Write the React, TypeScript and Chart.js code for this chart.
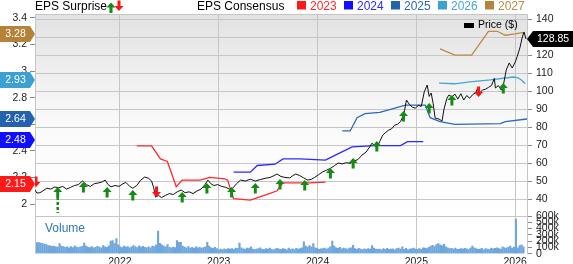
import React, { useEffect, useRef } from "react";
import { Chart, registerables } from "chart.js";

Chart.register(...registerables);

const FONT = '"Liberation Sans", Arial, Helvetica, sans-serif';

// ---------- x range (fractional years) ----------
const xMin = 2021.14;
const xMax = 2026.12;

// ---------- price ($) ----------
const priceSeries: [number, number][] = [
  [2021.14, 45], [2021.16, 43.3], [2021.19, 43.5], [2021.22, 44.5], [2021.26, 46], [2021.30, 45.5],
  [2021.34, 46.7], [2021.38, 46.2], [2021.42, 47], [2021.46, 45.5], [2021.50, 46.5], [2021.54, 47.5],
  [2021.58, 48], [2021.62, 50], [2021.66, 48], [2021.70, 47], [2021.74, 48.5], [2021.78, 48.9],
  [2021.82, 49.5], [2021.85, 50.5], [2021.88, 48], [2021.91, 46.8], [2021.95, 47.5], [2021.99, 47],
  [2022.03, 48.5], [2022.06, 49.2], [2022.10, 47], [2022.13, 46], [2022.17, 47.5], [2022.21, 50.5],
  [2022.25, 52.2], [2022.29, 51.5], [2022.32, 50], [2022.34, 46.5], [2022.36, 41.1], [2022.39, 42],
  [2022.42, 40.8], [2022.46, 42], [2022.50, 43], [2022.54, 42.5], [2022.58, 44], [2022.62, 45],
  [2022.66, 43.5], [2022.70, 44], [2022.74, 43], [2022.78, 44.5], [2022.82, 45.5], [2022.86, 48],
  [2022.89, 50.5], [2022.92, 48.5], [2022.95, 47.5], [2022.99, 48], [2023.03, 47], [2023.07, 46.5],
  [2023.11, 45.5], [2023.14, 46], [2023.18, 48.5], [2023.22, 50.5], [2023.27, 50], [2023.32, 51],
  [2023.37, 50], [2023.42, 50.8], [2023.47, 51.5], [2023.52, 52], [2023.56, 53], [2023.59, 53.9],
  [2023.63, 52.5], [2023.67, 52], [2023.72, 51.7], [2023.75, 53], [2023.78, 53.9], [2023.82, 53],
  [2023.86, 51.7], [2023.90, 50.5], [2023.94, 51], [2023.97, 52], [2024.01, 53.5], [2024.05, 55],
  [2024.09, 56], [2024.13, 57], [2024.17, 58.5], [2024.21, 60], [2024.25, 59.5], [2024.29, 60.2],
  [2024.33, 59.8], [2024.37, 61], [2024.41, 62], [2024.45, 64.4], [2024.49, 66], [2024.52, 68.3],
  [2024.55, 71], [2024.58, 69.5], [2024.60, 68.5], [2024.63, 72], [2024.66, 75.5], [2024.69, 77],
  [2024.72, 78.3], [2024.75, 79], [2024.78, 81], [2024.81, 81.5], [2024.84, 83], [2024.86, 85.5],
  [2024.88, 89], [2024.90, 95], [2024.93, 92.5], [2024.96, 91], [2024.99, 90.5], [2025.02, 92],
  [2025.05, 91.5], [2025.08, 99.5], [2025.11, 103.3], [2025.13, 97], [2025.15, 98.9], [2025.17, 93],
  [2025.19, 85], [2025.23, 84.4], [2025.26, 83.3], [2025.28, 90], [2025.31, 96], [2025.33, 97.8],
  [2025.36, 96.7], [2025.39, 98.3], [2025.42, 95.5], [2025.45, 98.5], [2025.48, 95], [2025.51, 97.5],
  [2025.54, 96], [2025.57, 98], [2025.60, 99], [2025.62, 101.5], [2025.64, 98.9], [2025.67, 100.5],
  [2025.70, 101], [2025.73, 102], [2025.76, 103], [2025.79, 107], [2025.80, 101.7], [2025.83, 103],
  [2025.86, 100.5], [2025.88, 103], [2025.91, 111.7], [2025.94, 115.6], [2025.97, 112.8], [2026.00, 116],
  [2026.02, 119], [2026.05, 124.4], [2026.07, 129.4], [2026.09, 132.8], [2026.11, 128.85],
];
const lastPrice = 128.85;

// ---------- EPS consensus by fiscal year ----------
const eps2023: [number, number][] = [
  [2022.17, 2.437], [2022.32, 2.437], [2022.41, 2.34], [2022.48, 2.32], [2022.57, 2.13], [2022.63, 2.18],
  [2022.81, 2.18], [2022.91, 2.2], [2023.06, 2.19], [2023.09, 2.18], [2023.15, 2.04], [2023.32, 2.03],
  [2023.40, 2.05], [2023.52, 2.08], [2023.59, 2.1], [2023.65, 2.16], [2023.92, 2.16], [2024.08, 2.165],
];
const eps2024: [number, number][] = [
  [2023.15, 2.24], [2023.32, 2.24], [2023.39, 2.29], [2023.57, 2.3], [2023.65, 2.34], [2023.82, 2.34],
  [2024.08, 2.33], [2024.16, 2.36], [2024.35, 2.43], [2024.58, 2.44], [2024.84, 2.44], [2024.91, 2.47],
  [2025.07, 2.47],
];
const eps2025: [number, number][] = [
  [2024.25, 2.55], [2024.33, 2.55], [2024.40, 2.65], [2024.48, 2.68], [2024.63, 2.69], [2024.89, 2.745],
  [2025.09, 2.745], [2025.14, 2.65], [2025.24, 2.62], [2025.39, 2.6], [2025.85, 2.605], [2025.90, 2.62],
  [2026.12, 2.64],
];
const eps2026: [number, number][] = [
  [2025.23, 2.91], [2025.39, 2.905], [2025.54, 2.92], [2025.75, 2.935], [2025.98, 2.956], [2026.03, 2.95],
  [2026.07, 2.93], [2026.10, 2.905],
];
const eps2027: [number, number][] = [
  [2025.24, 3.167], [2025.39, 3.12], [2025.56, 3.12], [2025.73, 3.3], [2025.82, 3.3], [2025.90, 3.27],
  [2026.00, 3.28], [2026.07, 3.29], [2026.10, 3.28],
];

const epsYears = ["2023", "2024", "2025", "2026", "2027"];
const epsColors = ["#ff2a2a", "#2a2aff", "#2d68b8", "#45a5d6", "#bb8a45"];
const epsFlagValues = [2.15, 2.48, 2.64, 2.93, 3.28];
const epsFlagColors = ["#ff1a1a", "#1010ff", "#2462b0", "#3ba0d2", "#b5823a"];

// ---------- EPS surprise markers ----------
const surpriseDates = [
  2021.15, 2021.37, 2021.63, 2021.87, 2022.13, 2022.37, 2022.63, 2022.88, 2023.13, 2023.37,
  2023.62, 2023.87, 2024.13, 2024.36, 2024.60, 2024.87, 2025.13, 2025.36, 2025.63, 2025.88,
];
const surprisePrices = [
  46.7, 46.7, 49.4, 46.7, 45, 41.1, 43.9, 48.9, 46.7, 48.9,
  51.1, 50.5, 57.2, 62.8, 72.2, 88.9, 93.3, 97.8, 96.7, 104.4,
];
const surpriseUp = [
  false, true, true, true, true, false, true, true, true, true,
  true, true, true, true, true, true, true, true, false, true,
];
const surpriseLong = [
  false, true, false, false, false, false, false, false, false, false,
  false, false, false, false, false, false, false, false, false, false,
];

// ---------- weekly volume (thousands) ----------
const volumeStart = 2021.14;
const volumeStep = 1 / 52.18;
const volumeValues = [
  180, 178, 176, 170, 165, 150, 145, 130, 125, 118, 122, 110, 105,
  160, 120, 115, 100, 108, 95, 112, 98, 125, 104, 96, 110, 118,
  170, 120, 105, 98, 115, 92, 100, 118, 106, 95, 130, 110, 100,
  125, 200, 210, 160, 240, 140, 110, 98, 120, 105, 115, 95, 108,
  130, 112, 98, 125, 105, 118, 100, 92, 110, 95, 120, 115, 140,
  360, 165, 140, 120, 110, 145, 100, 95, 105, 98, 210, 180, 180,
  120, 105, 95, 112, 90, 100, 85, 110, 95, 102, 88, 98, 110,
  180, 120, 95, 85, 100, 80, 60, 72, 65, 78, 70, 82, 75,
  80, 70, 90, 85, 170, 95, 78, 72, 88, 80, 110, 75, 68,
  72, 80, 95, 70, 65, 82, 75, 88, 70, 60, 78, 85, 72,
  68, 80, 75, 62, 90, 70, 78, 65, 85, 72, 80, 95, 190,
  120, 105, 130, 110, 160, 95, 85, 70, 78, 82, 90, 75, 88,
  110, 200, 120, 95, 85, 100, 78, 90, 82, 75, 88, 95, 135,
  80, 70, 85, 72, 65, 78, 70, 82, 75, 130, 90, 72, 68,
  75, 62, 80, 70, 85, 68, 72, 78, 60, 82, 90, 75, 110,
  70, 85, 60, 72, 80, 90, 75, 68, 82, 70, 95, 88, 80,
  100, 120, 135, 115, 145, 160, 140, 125, 150, 110, 95, 80, 85,
  75, 90, 70, 68, 80, 72, 85, 78, 65, 88, 120, 95, 80,
  70, 75, 85, 62, 80, 72, 68, 90, 78, 85, 95, 82, 75,
  110, 95, 88, 100, 120, 90, 105, 550, 95, 130, 140, 110,
];

const GRID = "#c6c6c6";
const TICK = "#8a8a8a";
const LABEL = "#222";

const toXY = (s: [number, number][]) => s.map(([x, y]) => ({ x, y }));

function drawArrow(ctx: CanvasRenderingContext2D, x: number, yTip: number, up: boolean, color: string) {
  const d = up ? 1 : -1;
  ctx.save();
  ctx.fillStyle = color;
  ctx.beginPath();
  ctx.moveTo(x, yTip);
  ctx.lineTo(x + 4.5, yTip + d * 5);
  ctx.lineTo(x + 1.5, yTip + d * 5);
  ctx.lineTo(x + 1.5, yTip + d * 10.5);
  ctx.lineTo(x - 1.5, yTip + d * 10.5);
  ctx.lineTo(x - 1.5, yTip + d * 5);
  ctx.lineTo(x - 4.5, yTip + d * 5);
  ctx.closePath();
  ctx.fill();
  ctx.restore();
}

export default function App() {
  const mainRef = useRef<HTMLCanvasElement>(null);
  const volRef = useRef<HTMLCanvasElement>(null);

  useEffect(() => {
    Chart.defaults.font.family = FONT;

    const bgPlugin = {
      id: "bg",
      beforeDraw(chart: any) {
        const { ctx, chartArea: a } = chart;
        const g = ctx.createLinearGradient(0, a.top, 0, a.bottom);
        g.addColorStop(0, "#e2e2e2");
        g.addColorStop(0.55, "#fafafa");
        g.addColorStop(1, "#ffffff");
        ctx.save();
        ctx.fillStyle = g;
        ctx.fillRect(a.left, a.top, a.right - a.left, a.bottom - a.top);
        ctx.restore();
      },
    };

    const marksPlugin = {
      id: "marks",
      afterDatasetsDraw(chart: any) {
        const { ctx, chartArea: a } = chart;
        const xs = chart.scales.x;
        const ys = chart.scales.yPrice;
        ctx.save();
        ctx.beginPath();
        ctx.rect(a.left, a.top, a.right - a.left, a.bottom - a.top);
        ctx.clip();
        surpriseDates.forEach((d, i) => {
          const x = xs.getPixelForValue(d);
          const y = ys.getPixelForValue(surprisePrices[i]);
          const up = surpriseUp[i];
          const color = up ? "#148c14" : "#ff1414";
          drawArrow(ctx, x, y, up, color);
          if (surpriseLong[i]) {
            ctx.save();
            ctx.strokeStyle = color;
            ctx.lineWidth = 2.5;
            ctx.setLineDash([3, 2]);
            ctx.beginPath();
            ctx.moveTo(x, y + 10);
            ctx.lineTo(x, a.bottom - 3);
            ctx.stroke();
            ctx.restore();
          }
        });
        ctx.restore();
        // top border of plot
        ctx.save();
        ctx.strokeStyle = GRID;
        ctx.lineWidth = 1;
        ctx.beginPath();
        ctx.moveTo(a.left, a.top + 0.5);
        ctx.lineTo(a.right, a.top + 0.5);
        ctx.stroke();
        ctx.restore();
      },
    };

    const overlayPlugin = {
      id: "overlay",
      afterDraw(chart: any) {
        const { ctx, chartArea: a } = chart;
        const yE = chart.scales.yEps;
        const yP = chart.scales.yPrice;
        ctx.save();
        // left EPS flags
        epsFlagValues.forEach((v, i) => {
          const y = Math.round(yE.getPixelForValue(v));
          ctx.fillStyle = epsFlagColors[i];
          ctx.beginPath();
          ctx.moveTo(0, y - 8);
          ctx.lineTo(30, y - 8);
          ctx.lineTo(35, y);
          ctx.lineTo(30, y + 8);
          ctx.lineTo(0, y + 8);
          ctx.closePath();
          ctx.fill();
          ctx.fillStyle = "#fff";
          ctx.font = `10.5px ${FONT}`;
          ctx.textAlign = "center";
          ctx.textBaseline = "middle";
          ctx.fillText(v.toFixed(2), 15.5, y + 0.5);
        });
        // right price flag
        const py = Math.round(yP.getPixelForValue(lastPrice));
        ctx.fillStyle = "#000";
        ctx.beginPath();
        ctx.moveTo(a.right, py);
        ctx.lineTo(a.right + 6, py - 8);
        ctx.lineTo(573, py - 8);
        ctx.lineTo(573, py + 8);
        ctx.lineTo(a.right + 6, py + 8);
        ctx.closePath();
        ctx.fill();
        ctx.fillStyle = "#fff";
        ctx.font = `10.5px ${FONT}`;
        ctx.textAlign = "left";
        ctx.textBaseline = "middle";
        ctx.fillText(lastPrice.toFixed(2), 537, py + 0.5);

        // Price ($) legend in plot
        ctx.fillStyle = "#000";
        ctx.fillRect(464, 23, 10, 5);
        ctx.font = `10.5px ${FONT}`;
        ctx.fillText("Price ($)", 478, 25.5);

        // top legend
        ctx.font = `12px ${FONT}`;
        ctx.fillStyle = "#000";
        ctx.textBaseline = "middle";
        ctx.fillText("EPS Surprise", 35, 6.5);
        drawArrow(ctx, 111, 2.5, true, "#148c14");
        drawArrow(ctx, 119, 11, false, "#ff1414");
        ctx.fillStyle = "#000";
        ctx.fillText("EPS Consensus", 197, 6.5);
        const sq = [297, 344, 391, 438, 485];
        epsYears.forEach((yr, i) => {
          ctx.fillStyle = epsFlagColors[i];
          ctx.fillRect(sq[i], 1, 9, 8.5);
          ctx.fillStyle = epsColors[i];
          ctx.fillText(yr, sq[i] + 13, 6.5);
        });
        ctx.restore();
      },
    };

    const epsSets = [eps2023, eps2024, eps2025, eps2026, eps2027].map((s, i) => ({
      label: epsYears[i],
      data: toXY(s),
      yAxisID: "yEps",
      borderColor: epsColors[i],
      borderWidth: 1.3,
      pointRadius: 0,
      tension: 0,
    }));

    const main = new Chart(mainRef.current as HTMLCanvasElement, {
      type: "line",
      data: {
        datasets: [
          {
            label: "Price ($)",
            data: toXY(priceSeries),
            yAxisID: "yPrice",
            borderColor: "#111",
            borderWidth: 1,
            pointRadius: 0,
            tension: 0,
          },
          ...epsSets,
        ] as any,
      },
      options: {
        animation: false,
        responsive: false,
        devicePixelRatio: 1,
        events: [],
        layout: { padding: { top: 14, bottom: 48, left: 0, right: 0 } },
        plugins: { legend: { display: false }, tooltip: { enabled: false } },
        scales: {
          x: {
            type: "linear",
            min: xMin,
            max: xMax,
            ticks: { display: false, stepSize: 1, includeBounds: false },
            grid: { color: GRID, drawTicks: false },
            border: { display: false },
            afterFit: (s: any) => {
              s.height = 0;
            },
          },
          yEps: {
            type: "linear",
            position: "left",
            min: 1.91,
            max: 3.43,
            ticks: {
              stepSize: 0.2,
              includeBounds: false,
              color: LABEL,
              padding: 3,
              font: { size: 10.5, family: FONT },
              callback: (v: any) => String(Number(Number(v).toFixed(1))),
            },
            grid: { drawOnChartArea: false, tickLength: 5, tickColor: TICK },
            border: { color: GRID },
            afterFit: (s: any) => {
              s.width = 35;
            },
          },
          yPrice: {
            type: "linear",
            position: "right",
            min: 30.56,
            max: 142.78,
            ticks: {
              stepSize: 10,
              includeBounds: false,
              color: LABEL,
              padding: 4,
              font: { size: 10.5, family: FONT },
            },
            grid: { color: GRID, tickLength: 5, tickColor: TICK },
            border: { color: GRID },
            afterFit: (s: any) => {
              s.width = 46;
            },
          },
        } as any,
      },
      plugins: [bgPlugin, marksPlugin, overlayPlugin],
    });

    const volPlugin = {
      id: "volDecor",
      afterDraw(chart: any) {
        const { ctx, chartArea: a } = chart;
        ctx.save();
        ctx.strokeStyle = GRID;
        ctx.lineWidth = 1;
        ctx.beginPath();
        ctx.moveTo(a.left, a.top + 0.5);
        ctx.lineTo(a.right, a.top + 0.5);
        ctx.moveTo(a.left + 0.5, a.top);
        ctx.lineTo(a.left + 0.5, a.bottom);
        ctx.stroke();
        ctx.fillStyle = "#2f78bd";
        ctx.font = `12px ${FONT}`;
        ctx.textAlign = "left";
        ctx.textBaseline = "middle";
        ctx.fillText("Volume", 45, 229);
        ctx.restore();
      },
    };

    const vol = new Chart(volRef.current as HTMLCanvasElement, {
      type: "bar",
      data: {
        datasets: [
          {
            label: "Volume",
            data: volumeValues.map((v, i) => ({ x: volumeStart + i * volumeStep, y: v * 1000 })),
            backgroundColor: "#6fa6db",
            barThickness: 1.5,
            yAxisID: "yVol",
          },
        ] as any,
      },
      options: {
        animation: false,
        responsive: false,
        devicePixelRatio: 1,
        events: [],
        layout: { padding: { top: 216, bottom: 0, left: 35, right: 0 } },
        plugins: { legend: { display: false }, tooltip: { enabled: false } },
        scales: {
          x: {
            type: "linear",
            min: xMin,
            max: xMax,
            offset: false,
            ticks: {
              stepSize: 1,
              includeBounds: false,
              color: LABEL,
              padding: 2,
              maxRotation: 0,
              font: { size: 10.5, family: FONT },
              callback: (v: any) => String(v),
            },
            grid: { color: GRID, drawTicks: false, offset: false },
            border: { display: false },
            afterFit: (s: any) => {
              s.height = 10;
            },
          },
          yVol: {
            type: "linear",
            position: "right",
            min: 0,
            max: 600000,
            ticks: {
              stepSize: 100000,
              autoSkip: false,
              color: LABEL,
              padding: 4,
              font: { size: 10.5, family: FONT },
              callback: (v: any) => (Number(v) === 0 ? "0" : `${Number(v) / 1000}k`),
            },
            grid: { drawOnChartArea: false, tickLength: 5, tickColor: TICK },
            border: { color: GRID },
            afterFit: (s: any) => {
              s.width = 46;
            },
          },
        } as any,
      },
      plugins: [volPlugin],
    });

    return () => {
      main.destroy();
      vol.destroy();
    };
  }, []);

  return (
    <div style={{ position: "fixed", left: 0, top: 0, width: 573, height: 264, background: "#fff" }}>
      <canvas ref={mainRef} width={573} height={264} style={{ position: "absolute", left: 0, top: 0 }} />
      <canvas ref={volRef} width={573} height={264} style={{ position: "absolute", left: 0, top: 0 }} />
    </div>
  );
}
